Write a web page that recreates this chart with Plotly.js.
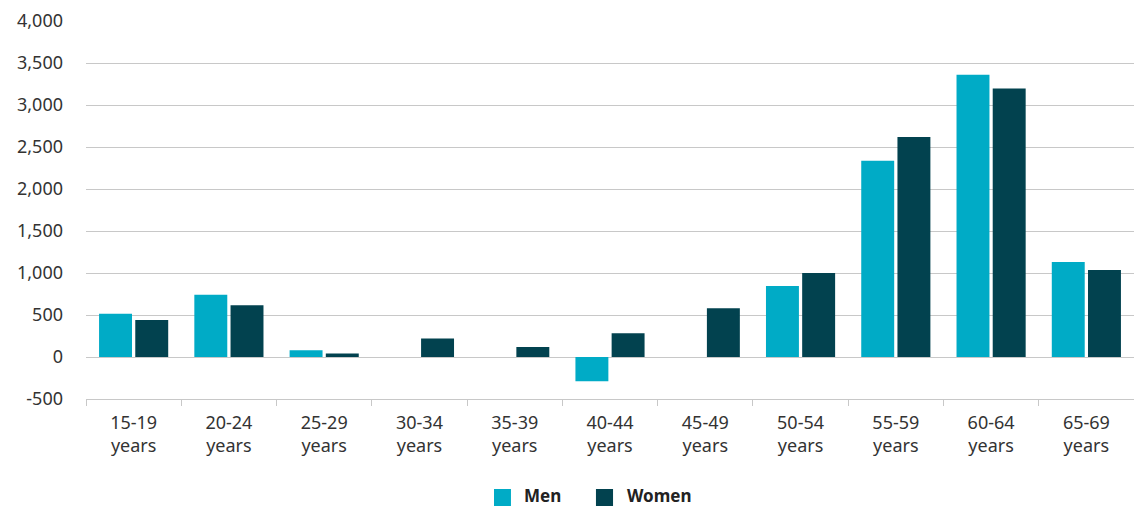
<!DOCTYPE html>
<html>
<head>
<meta charset="utf-8">
<script src="https://cdn.plot.ly/plotly-3.0.1.min.js"></script>
<style>
  html, body { margin: 0; padding: 0; background: #ffffff; }
  #chart { width: 1134px; height: 507px; }
</style>
</head>
<body>
<div id="chart"></div>
<script>
// Age groups (two-line tick labels)
const ageGroups = [
  "15-19<br>years", "20-24<br>years", "25-29<br>years", "30-34<br>years",
  "35-39<br>years", "40-44<br>years", "45-49<br>years", "50-54<br>years",
  "55-59<br>years", "60-64<br>years", "65-69<br>years"
];

// Change by sex for each age group
const menValues   = [515, 740, 80, 0, 0, -290, 0, 845, 2335, 3360, 1130];
const womenValues = [440, 615, 42, 220, 120, 283, 580, 1000, 2620, 3195, 1035];

const yTickValues = [-500, 0, 500, 1000, 1500, 2000, 2500, 3000, 3500, 4000];

const seriesNames = ["Men", "Women"];
const menColor = "#00ABC6";
const womenColor = "#02424F";
const seriesColors = [menColor, womenColor];
const gridColor = "#c8c8c8";
const textColor = "#333333";
const baseFont = "Noto Sans, Open Sans, sans-serif";

const traces = [
  {
    type: "bar", name: seriesNames[0], x: ageGroups, y: menValues,
    marker: { color: menColor }, hoverinfo: "skip"
  },
  {
    type: "bar", name: seriesNames[1], x: ageGroups, y: womenValues,
    marker: { color: womenColor }, hoverinfo: "skip"
  }
];

// Legend drawn below the plot with larger square swatches
const legendSwatchX = [[0.3893, 0.4055], [0.4866, 0.5029]];
const legendTextX = [0.4170, 0.5149];
const legendShapes = seriesNames.map((n, i) => ({
  type: "rect", xref: "paper", yref: "paper",
  x0: legendSwatchX[i][0], x1: legendSwatchX[i][1],
  y0: -0.2831, y1: -0.2381,
  fillcolor: seriesColors[i], line: { width: 0 }
}));
const legendLabels = seriesNames.map((n, i) => ({
  xref: "paper", yref: "paper",
  x: legendTextX[i], y: -0.2553,
  xanchor: "left", yanchor: "middle",
  text: n, showarrow: false, borderpad: 0,
  font: { family: baseFont, size: 17, color: "#222222", weight: "bold" }
}));

const layout = {
  width: 1134, height: 507,
  margin: { l: 86, r: 0, t: 21, b: 108, autoexpand: false },
  paper_bgcolor: "#ffffff", plot_bgcolor: "#ffffff",
  font: { family: baseFont, size: 18, color: textColor },
  barmode: "group",
  bargap: 0.24,
  bargroupgap: 0.09,
  xaxis: {
    type: "category",
    tickson: "boundaries",
    ticks: "outside", ticklen: 6, tickcolor: gridColor, tickwidth: 1,
    showline: true, linecolor: gridColor, linewidth: 1,
    showgrid: false, zeroline: false,
    ticklabelstandoff: 7,
    tickfont: { family: baseFont, size: 18, color: textColor },
    fixedrange: true
  },
  yaxis: {
    range: [-500, 4000],
    tickvals: yTickValues,
    ticktext: yTickValues.map(v => v.toLocaleString("en-US")),
    showgrid: true, gridcolor: gridColor, gridwidth: 1,
    zeroline: true, zerolinecolor: gridColor, zerolinewidth: 1,
    showline: false, ticks: "",
    ticklabelstandoff: 22,
    tickfont: { family: baseFont, size: 18, color: textColor },
    fixedrange: true
  },
  showlegend: false,
  shapes: legendShapes,
  annotations: legendLabels
};

Plotly.newPlot("chart", traces, layout, { displayModeBar: false, staticPlot: true });
</script>
</body>
</html>
